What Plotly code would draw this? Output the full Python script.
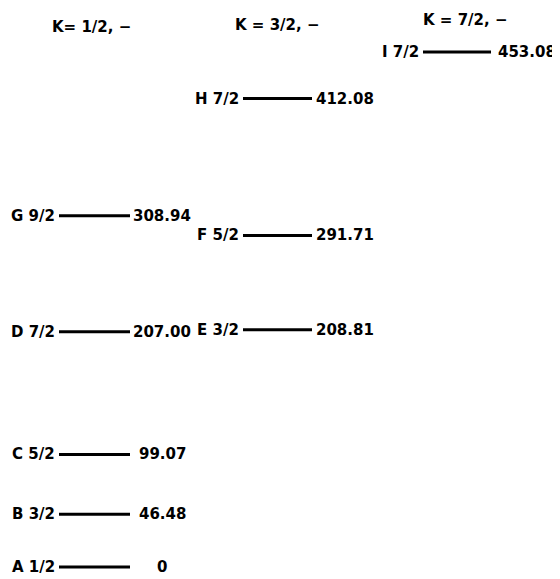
import plotly.graph_objects as go

# ---- data ----
level_names = ["A", "B", "C", "D", "E", "F", "G", "H", "I"]
level_spins = ["1/2", "3/2", "5/2", "7/2", "3/2", "5/2", "9/2", "7/2", "7/2"]
level_energies = [0, 46.48, 99.07, 207.00, 208.81, 291.71, 308.94, 412.08, 453.08]
level_energy_text = ["0", "46.48", "99.07", "207.00", "208.81", "291.71", "308.94", "412.08", "453.08"]
level_band = [0, 0, 0, 0, 1, 1, 0, 1, 2]
band_titles = ["K= 1/2, \u2212", "K = 3/2, \u2212", "K = 7/2, \u2212"]

# ---- styling / layout constants ----
band_x = [(59, 130), (243, 312), (423, 491)]   # line start / end per band (x axis units)
band_value_x = [162, 345, 527]                 # centre of the energy labels per band
band_title_x = [91, 277, 465]
band_title_y = [0.967, 0.970, 0.979]
FONT = dict(family="DejaVu Sans", size=15, color="black", weight="bold")

fig = go.Figure()

xs, ys = [], []
for e, b in zip(level_energies, level_band):
    x0, x1 = band_x[b]
    xs += [x0, x1, None]
    ys += [e, e, None]
fig.add_trace(go.Scatter(x=xs, y=ys, mode="lines",
                         line=dict(color="black", width=3),
                         hoverinfo="skip", showlegend=False))

annotations = []
for name, spin, e, et, b in zip(level_names, level_spins, level_energies,
                                level_energy_text, level_band):
    x0, x1 = band_x[b]
    annotations.append(dict(x=x0, y=e, xref="x", yref="y", text=f"{name} {spin}",
                            showarrow=False, xanchor="right", yanchor="middle",
                            xshift=-2, font=FONT))
    annotations.append(dict(x=band_value_x[b], y=e, xref="x", yref="y", text=et,
                            showarrow=False, xanchor="center", yanchor="middle",
                            font=FONT))
for t, tx, ty in zip(band_titles, band_title_x, band_title_y):
    annotations.append(dict(x=tx, y=ty, xref="x", yref="paper", text=t,
                            showarrow=False, xanchor="center", yanchor="middle",
                            font=FONT))

fig.update_layout(
    width=552, height=571,
    margin=dict(l=0, r=0, t=0, b=0),
    paper_bgcolor="white", plot_bgcolor="white",
    xaxis=dict(range=[8, 560], visible=False, fixedrange=True),
    yaxis=dict(range=[-10.56, 491.8], visible=False, fixedrange=True),
    annotations=annotations,
    showlegend=False,
)

fig.write_html("out.html")
